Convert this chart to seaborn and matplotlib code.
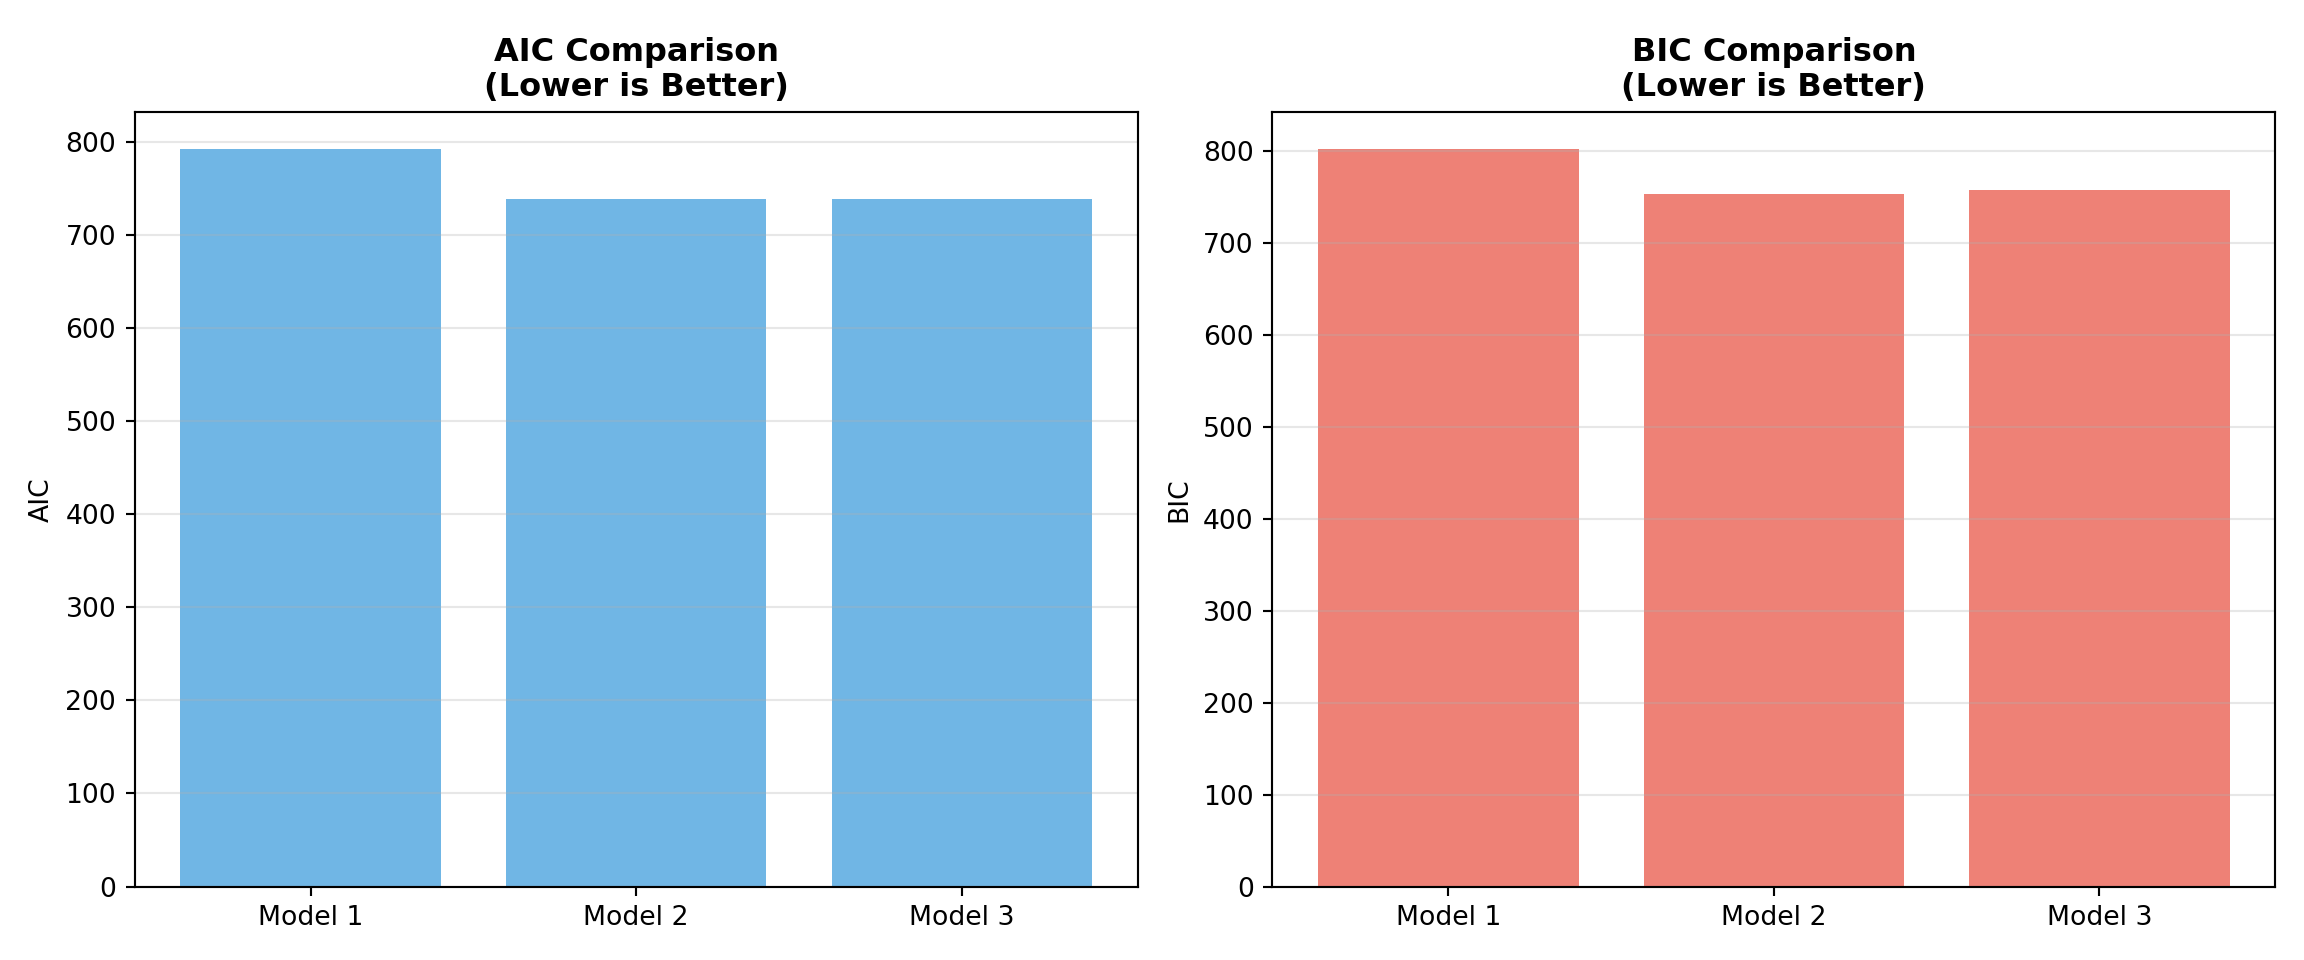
import matplotlib
matplotlib.use('Agg')
import matplotlib.pyplot as plt
import seaborn as sns

# Information criteria per model
models = ['Model 1', 'Model 2', 'Model 3']
aic_values = [792.5, 738.6, 738.5]
bic_values = [802.0, 752.9, 757.5]

fig, axes = plt.subplots(1, 2, figsize=(12, 5), dpi=192)

# AIC panel
sns.barplot(x=models, y=aic_values, color='#3498db', alpha=0.7,
            saturation=1, width=0.8, ax=axes[0])
axes[0].set_ylabel('AIC')
axes[0].set_title('AIC Comparison\n(Lower is Better)', fontweight='bold', fontsize=12)
axes[0].grid(axis='y', alpha=0.3)

# BIC panel
sns.barplot(x=models, y=bic_values, color='#e74c3c', alpha=0.7,
            saturation=1, width=0.8, ax=axes[1])
axes[1].set_ylabel('BIC')
axes[1].set_title('BIC Comparison\n(Lower is Better)', fontweight='bold', fontsize=12)
axes[1].grid(axis='y', alpha=0.3)

for ax in axes:
    ax.set_xlabel('')
    # plain matplotlib bar margins instead of seaborn's tight categorical limits
    ax.set_xlim(-0.54, 2.54)

plt.tight_layout()
fig.subplots_adjust(top=0.883)
plt.savefig('out.png', dpi=192)
